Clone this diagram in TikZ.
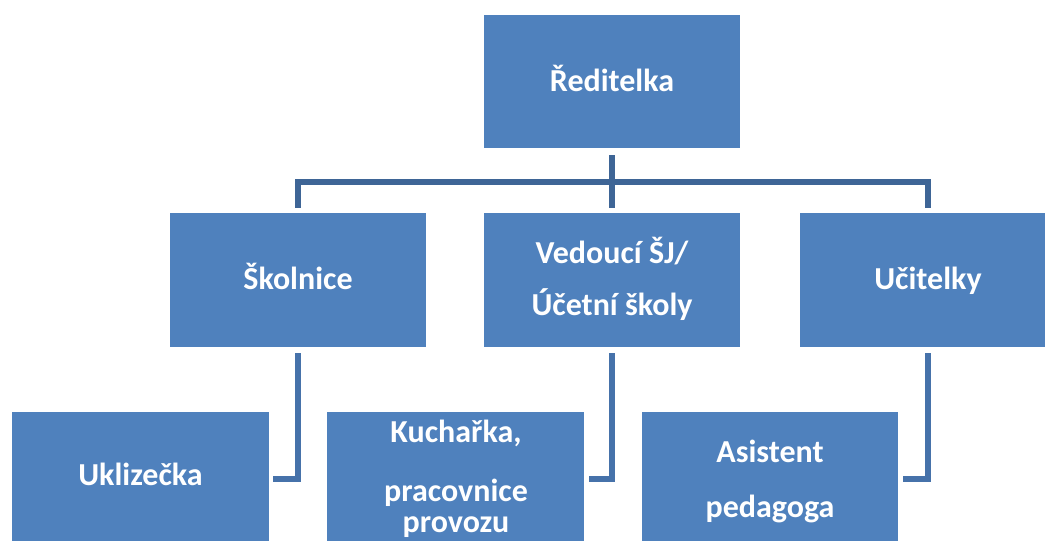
\documentclass[tikz,border=0pt]{standalone}
\usepackage{fontspec}
\setmainfont{Carlito}
\definecolor{boxblue}{HTML}{4F81BD}
\definecolor{topline}{HTML}{3E6596}
\definecolor{subline}{HTML}{4672AA}
\begin{document}
\begin{tikzpicture}[x=1pt,y=-1pt,
  box/.style={rectangle, fill=boxblue, draw=none, minimum width=256pt, minimum height=133pt, inner sep=0pt, text=white, font=\fontsize{32}{38}\selectfont\bfseries, text height=23pt, text depth=4pt},
  txt/.style={inner sep=0pt, text=white, font=\fontsize{32}{38}\selectfont\bfseries, anchor=base},
  conn/.style={line width=6pt, line join=miter, draw=topline},
  sub/.style={line width=6pt, line join=miter, draw=subline}]
\useasboundingbox (0,0) rectangle (1045,541);
% top level
\node[box] (R) at (612,81.5) {Ředitelka};
% second level
\node[box, minimum height=134pt] (S) at (298,280) {Školnice};
\node[box, minimum height=134pt] (V) at (612,280) {};
\node[txt] (V1) at (612,263) {Vedoucí ŠJ/};
\node[txt] (V2) at (612,315) {Účetní školy};
\node[box, minimum height=134pt] (U) at (928,280) {Učitelky};
% third level
\node[box, minimum width=257pt, minimum height=134pt, text height=20pt, text depth=8pt] (Uk) at (140.5,479) {Uklizečka};
\node[box, minimum width=257pt, minimum height=134pt] (K) at (455.5,479) {};
\node[txt] (K1) at (456,442) {Kuchařka,};
\node[txt] (K2) at (456,501) {pracovnice};
\node[txt] (K3) at (456,532) {provozu};
\node[box, minimum height=134pt] (A) at (770,479) {};
\node[txt] (A1) at (770,462) {Asistent};
\node[txt] (A2) at (770,517) {pedagoga};
% connectors
\draw[conn] ([yshift=-7pt]R.south) -- ([yshift=5pt]V.north);
\draw[conn] ([yshift=5pt]S.north) -- ++(0,-26) -| ([yshift=5pt]U.north);
\draw[sub] ([yshift=-6pt]S.south) |- ([xshift=4pt]Uk.east);
\draw[sub] ([yshift=-6pt]V.south) |- ([xshift=5pt]K.east);
\draw[sub] ([yshift=-6pt]U.south) |- ([xshift=5pt]A.east);
\end{tikzpicture}
\end{document}
